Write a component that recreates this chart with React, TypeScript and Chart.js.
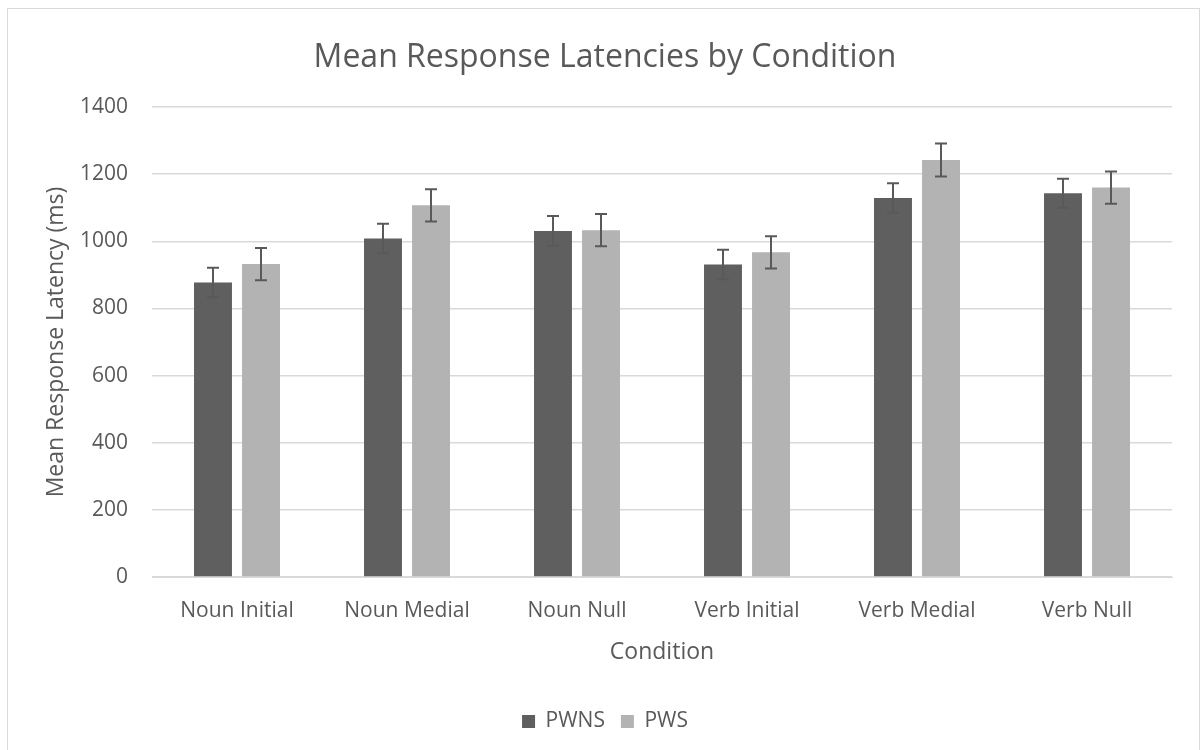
import React, { useEffect, useRef } from "react";
import { Chart, registerables } from "chart.js";

Chart.register(...registerables);

const categories = ["Noun Initial", "Noun Medial", "Noun Null", "Verb Initial", "Verb Medial", "Verb Null"];
const pwnsValues = [877, 1008, 1031, 931, 1129, 1143];
const pwsValues = [932, 1107, 1033, 967, 1242, 1160];
const pwnsErrors = [44, 44, 44, 44, 44, 43];
const pwsErrors = [48, 48, 48, 48, 49, 48];
const yTicks = [0, 200, 400, 600, 800, 1000, 1200, 1400];

const FONT = "'Open Sans', sans-serif";
const TEXT = "#595959";

const errorBarPlugin = {
  id: "errorBars",
  afterDatasetsDraw(chart: any) {
    const ctx = chart.ctx;
    const yScale = chart.scales.y;
    const errs = [pwnsErrors, pwsErrors];
    ctx.save();
    ctx.strokeStyle = "#595959";
    ctx.lineWidth = 2;
    chart.data.datasets.forEach((ds: any, i: number) => {
      const meta = chart.getDatasetMeta(i);
      meta.data.forEach((bar: any, j: number) => {
        const v = ds.data[j];
        const e = errs[i][j];
        const x = Math.round(bar.x);
        const yTop = yScale.getPixelForValue(v + e);
        const yBot = yScale.getPixelForValue(v - e);
        ctx.beginPath();
        ctx.moveTo(x, yTop);
        ctx.lineTo(x, yBot);
        ctx.moveTo(x - 6, yTop);
        ctx.lineTo(x + 6, yTop);
        ctx.moveTo(x - 6, yBot);
        ctx.lineTo(x + 6, yBot);
        ctx.stroke();
      });
    });
    ctx.restore();
  },
};

const PAD_LEFT = 38;

export default function App() {
  const canvasRef = useRef<HTMLCanvasElement | null>(null);

  useEffect(() => {
    document.body.style.margin = "0";
    const canvas = canvasRef.current;
    if (!canvas) return;
    const chart = new Chart(canvas, {
      type: "bar",
      data: {
        labels: categories,
        datasets: [
          {
            label: "PWNS",
            data: pwnsValues,
            backgroundColor: "#5f5f5f",
            categoryPercentage: 0.565,
            barPercentage: 0.79,
          },
          {
            label: "PWS",
            data: pwsValues,
            backgroundColor: "#b3b3b3",
            categoryPercentage: 0.565,
            barPercentage: 0.79,
          },
        ],
      },
      options: {
        animation: false,
        responsive: false,
        maintainAspectRatio: false,
        layout: { padding: { left: PAD_LEFT, right: 31, top: 0, bottom: 8 } },
        plugins: {
          title: {
            display: true,
            text: "Mean Response Latencies by Condition",
            color: TEXT,
            font: { family: FONT, size: 32, weight: "normal" },
            padding: { top: 39, bottom: 29.6 },
          },
          legend: {
            position: "bottom",
            labels: {
              color: TEXT,
              font: { family: FONT, size: 21 },
              boxWidth: 13,
              boxHeight: 13,
              padding: 16,
            },
          },
          tooltip: { enabled: false },
        },
        scales: {
          x: {
            afterFit: (scale: any) => {
              scale.height = 118;
            },
            grid: { display: false },
            border: { display: true, color: "#d9d9d9", width: 1 },
            ticks: { color: TEXT, font: { family: FONT, size: 21 }, padding: 13 },
            title: {
              display: true,
              text: "Condition",
              color: TEXT,
              font: { family: FONT, size: 23 },
              padding: { top: 0, bottom: 29 },
            },
          },
          y: {
            min: 0,
            max: 1400,
            afterFit: (scale: any) => {
              scale.width = 152 - PAD_LEFT;
            },
            afterBuildTicks: (scale: any) => {
              scale.ticks = yTicks.map((v) => ({ value: v }));
            },
            grid: { color: "#d9d9d9", lineWidth: 1.5, drawTicks: false },
            border: { display: false },
            ticks: {
              color: TEXT,
              font: { family: FONT, size: 21 },
              padding: 24,
              callback: (v: any) => String(v),
            },
            title: {
              display: true,
              text: "Mean Response Latency (ms)",
              color: TEXT,
              font: { family: FONT, size: 23 },
              padding: { top: 5, bottom: 4 },
            },
          },
        },
      },
      plugins: [errorBarPlugin],
    });
    return () => chart.destroy();
  }, []);

  return (
    <div style={{ position: "fixed", left: 0, top: 0, width: 1203, height: 750, background: "#fff" }}>
      <div
        style={{
          position: "absolute",
          left: 7,
          top: 8,
          width: 1193,
          height: 760,
          border: "1px solid #d9d9d9",
          boxSizing: "border-box",
        }}
      />
      <canvas ref={canvasRef} width={1203} height={750} style={{ position: "absolute", left: 0, top: 0 }} />
    </div>
  );
}
